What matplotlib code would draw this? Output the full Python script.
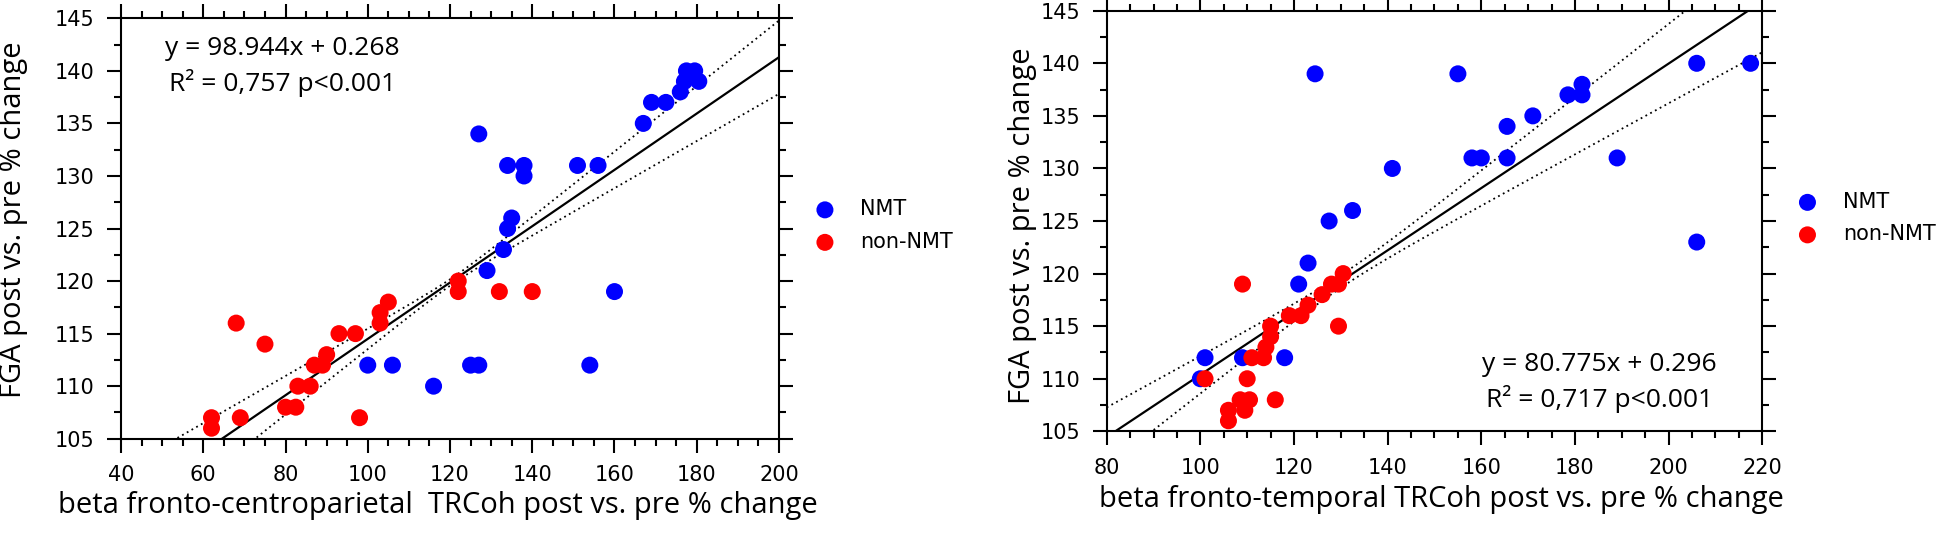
import numpy as np
import matplotlib
matplotlib.use('Agg')
import matplotlib.pyplot as plt

# ---- data ----
# left panel: beta fronto-centroparietal
left_nmt_x = [100, 106, 116, 125, 127, 127, 129, 133, 134, 135, 134, 138, 138,
              151, 156, 160, 154, 167, 169, 172.5, 176, 177.5, 179.5, 177, 180.5]
left_nmt_y = [112, 112, 110, 112, 112, 134, 121, 123, 125, 126, 131, 131, 130,
              131, 131, 119, 112, 135, 137, 137, 138, 140, 140, 139, 139]
left_non_x = [68, 75, 62, 62, 69, 98, 80, 82.5, 83, 86, 87, 89, 90, 93, 97,
              103, 103, 105, 122, 122, 132, 140]
left_non_y = [116, 114, 107, 106, 107, 107, 108, 108, 110, 110, 112, 112, 113,
              115, 115, 116, 117, 118, 120, 119, 119, 119]

# right panel: beta fronto-temporal
right_nmt_x = [124.5, 141, 132.5, 127.5, 123, 121, 101, 100, 109, 118, 155, 158,
               160, 165.5, 165.5, 171, 178.5, 181.5, 181.5, 189, 206, 217.5, 206]
right_nmt_y = [139, 130, 126, 125, 121, 119, 112, 110, 112, 112, 139, 131,
               131, 131, 134, 135, 137, 138, 137, 131, 140, 140, 123]
right_non_x = [109, 101, 110, 116, 106, 106, 108.5, 109.5, 110.5, 111, 113.5,
               114, 115, 115, 119, 121.5, 123, 126, 128, 129.5, 130.5, 129.5]
right_non_y = [119, 110, 110, 108, 106, 107, 108, 107, 108, 112, 112, 113,
               114, 115, 116, 116, 117, 118, 119, 119, 120, 115]

# regression line (slope, intercept) and confidence band (centre, h0, k)
left_fit = (0.268, 87.7)
left_band = (121, 0.3, 0.044)
right_fit = (0.296, 80.775)
right_band = (131, 0.6, 0.054)

left_eq = ['y = 98.944x + 0.268', 'R² = 0,757 p<0.001']
right_eq = ['y = 80.775x + 0.296', 'R² = 0,717 p<0.001']

left_xlabel = 'beta fronto-centroparietal  TRCoh post vs. pre % change'
right_xlabel = 'beta fronto-temporal TRCoh post vs. pre % change'
ylabel = 'FGA post vs. pre % change'

label_font = 'Open Sans'

fig = plt.figure(figsize=(19.46, 5.45), dpi=100)
ax1 = fig.add_axes([0.0622, 0.195, 0.3381, 0.7714])
ax2 = fig.add_axes([0.5687, 0.2086, 0.3369, 0.7717])


def draw_panel(ax, nmt_x, nmt_y, non_x, non_y, fit, band, xlim, eq, eq_pos,
               xlabel, xlab_pos, ylab_pos, leg_pos):
    ax.scatter(nmt_x, nmt_y, s=150, color='#0000ff', edgecolors='none',
               label='NMT', zorder=3)
    ax.scatter(non_x, non_y, s=150, color='#ff0000', edgecolors='none',
               label='non-NMT', zorder=4)

    xs = np.linspace(xlim[0], xlim[1], 400)
    yfit = fit[0] * xs + fit[1]
    h = np.sqrt(band[1] ** 2 + (band[2] * (xs - band[0])) ** 2)
    ax.plot(xs, yfit, color='black', lw=1.6, zorder=2)
    ax.plot(xs, yfit + h, color='black', lw=1.3, ls=(0, (1, 2)), zorder=2)
    ax.plot(xs, yfit - h, color='black', lw=1.3, ls=(0, (1, 2)), zorder=2)

    ax.set_xlim(xlim)
    ax.set_ylim(105, 145)
    ax.set_xticks(np.arange(xlim[0], xlim[1] + 1, 20))
    ax.set_xticks(np.arange(xlim[0], xlim[1] + 1, 5), minor=True)
    ax.set_yticks(np.arange(105, 146, 5))
    ax.set_yticks(np.arange(105, 146, 2.5), minor=True)
    ax.tick_params(which='both', direction='out', top=True, right=True,
                   width=1.5, labelsize=15)
    ax.tick_params(which='major', length=10, pad=9)
    ax.tick_params(which='minor', length=5)
    for sp in ax.spines.values():
        sp.set_linewidth(1.5)

    for i, line in enumerate(eq):
        ax.text(eq_pos[0], eq_pos[1][i], line, transform=ax.transAxes,
                ha='center', va='center', fontsize=19, family=label_font)

    ax.set_xlabel(xlabel, fontsize=21, family=label_font)
    ax.xaxis.set_label_coords(*xlab_pos)
    ax.xaxis.label.set_verticalalignment('center')
    ax.set_ylabel(ylabel, fontsize=21, family=label_font)
    ax.yaxis.set_label_coords(*ylab_pos)
    ax.yaxis.label.set_verticalalignment('center')

    ax.legend(loc='center left', bbox_to_anchor=leg_pos, frameon=False,
              fontsize=15, borderpad=0, borderaxespad=0, handlelength=1.0,
              handletextpad=1.2, labelspacing=0.6, scatterpoints=1)


draw_panel(ax1, left_nmt_x, left_nmt_y, left_non_x, left_non_y,
           left_fit, left_band, (40, 200), left_eq, (0.245, (0.929, 0.846)),
           left_xlabel, (0.481, -0.158), (-0.163, 0.522), (1.054, 0.507))
draw_panel(ax2, right_nmt_x, right_nmt_y, right_non_x, right_non_y,
           right_fit, right_band, (80, 220), right_eq, (0.752, (0.158, 0.077)),
           right_xlabel, (0.511, -0.163), (-0.129, 0.49), (1.053, 0.507))

fig.savefig('out.png', dpi=100)
